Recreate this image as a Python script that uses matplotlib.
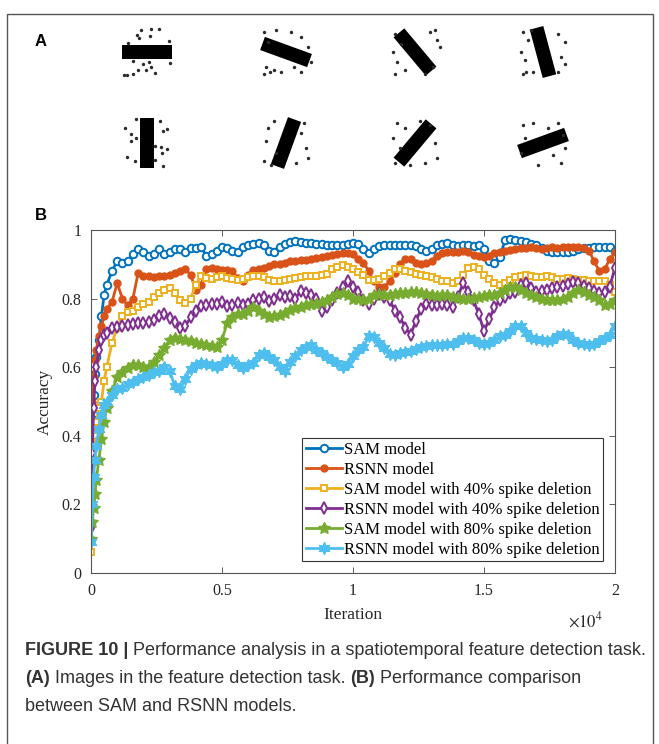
import numpy as np
import matplotlib
matplotlib.use("Agg")
import matplotlib.pyplot as plt
from matplotlib.patches import Rectangle

plt.rcParams["mathtext.fontset"] = "stix"

# ---- panel A: oriented bars with background noise ----
bar_angles = [0, -20, -50, -75, 90, 70, 50, 20]
bar_noise = [
    [(-6, -22), (4, -23), (12, -23), (-10, -17), (3, -16), (-8, -14), (22, -11), (-19, -9),
     (-14, 9), (-4, 12), (2, 10), (23, 11), (-9, 18), (-1, 18), (8, 21), (-14, 22), (-23, 23), (-20, 23), (4, 15)],
    [(-22, -20), (-10, -22), (5, -20), (15, -15), (-18, -10), (22, -5), (-20, 15), (-12, 18),
     (-5, 20), (8, 15), (15, 20), (-22, 22), (25, 10), (-16, 20)],
    [(-20, -18), (15, -20), (22, -12), (-22, 0), (-18, 10), (-10, 18), (-20, 22), (18, 15),
     (25, -5), (10, 22), (-14, -8), (20, -22)],
    [(-20, -20), (-15, -12), (15, -18), (22, -10), (-22, 0), (-18, 8), (18, 5), (-10, 20),
     (-20, 22), (15, 20), (22, 12), (-12, -22), (-17, 20)],
    [(-11, -24), (13, -22), (-22, -15), (-16, -9), (-11, -5), (16, -12), (20, -14), (-16, -2),
     (8, 3), (14, 4), (20, 6), (-20, 14), (-12, 18), (8, 17), (16, 23), (15, 10)],
    [(-18, -15), (-20, -2), (-10, 10), (15, -10), (20, 5), (22, 15), (-22, 18), (-15, 22),
     (10, 20), (18, -20), (-12, -22)],
    [(-18, -20), (-10, -15), (5, -22), (15, -18), (-22, -5), (-15, 5), (20, 0), (22, 15),
     (-20, 20), (10, 20), (-5, 22)],
    [(-20, -18), (-10, -20), (5, -15), (15, -20), (-18, -5), (20, -8), (-22, 10), (10, 12),
     (18, 20), (-5, 22), (22, 5)],
]

# ---- panel B: accuracy curves ----
iterations = np.concatenate([[0, 50, 100, 150, 200, 300, 400, 500, 600, 800],
                             np.arange(1000, 20001, 200)])

sam = [0.37, 0.45, 0.52, 0.58, 0.63, 0.68, 0.75, 0.81, 0.84, 0.88,
       0.91, 0.905, 0.91, 0.93, 0.945, 0.935, 0.925, 0.93, 0.945, 0.93,
       0.935, 0.945, 0.945, 0.935, 0.947, 0.947, 0.95, 0.925, 0.93, 0.94,
       0.95, 0.947, 0.94, 0.935, 0.95, 0.955, 0.96, 0.962, 0.955, 0.94,
       0.935, 0.95, 0.96, 0.965, 0.967, 0.965, 0.962, 0.962, 0.96, 0.958,
       0.955, 0.955, 0.957, 0.955, 0.958, 0.962, 0.96, 0.945, 0.933, 0.945,
       0.953, 0.955, 0.957, 0.957, 0.955, 0.955, 0.957, 0.952, 0.945, 0.94,
       0.945, 0.955, 0.96, 0.962, 0.957, 0.952, 0.955, 0.955, 0.952, 0.955,
       0.945, 0.91, 0.905, 0.92, 0.97, 0.975, 0.97, 0.968, 0.965, 0.96,
       0.955, 0.948, 0.94, 0.935, 0.935, 0.935, 0.937, 0.94, 0.945, 0.947,
       0.948, 0.95, 0.95, 0.95, 0.95, 0.94]

rsnn = [0.41, 0.5, 0.57, 0.62, 0.65, 0.69, 0.72, 0.75, 0.77, 0.79,
        0.845, 0.8, 0.78, 0.8, 0.875, 0.866, 0.866, 0.863, 0.866, 0.866,
        0.869, 0.875, 0.88, 0.885, 0.87, 0.825, 0.84, 0.885, 0.889, 0.885,
        0.883, 0.883, 0.88, 0.86, 0.85, 0.87, 0.883, 0.885, 0.89, 0.895,
        0.9, 0.9, 0.905, 0.91, 0.91, 0.913, 0.913, 0.915, 0.918, 0.92,
        0.925, 0.928, 0.93, 0.932, 0.933, 0.93, 0.915, 0.905, 0.88, 0.85,
        0.835, 0.835, 0.85, 0.875, 0.9, 0.915, 0.915, 0.905, 0.9, 0.905,
        0.91, 0.925, 0.933, 0.935, 0.935, 0.935, 0.938, 0.935, 0.928, 0.925,
        0.92, 0.925, 0.933, 0.935, 0.94, 0.943, 0.945, 0.947, 0.948, 0.95,
        0.948, 0.945, 0.947, 0.95, 0.948, 0.95, 0.95, 0.95, 0.95, 0.948,
        0.94, 0.91, 0.88, 0.885, 0.915, 0.935]

sam40 = [0.06, 0.22, 0.33, 0.4, 0.44, 0.48, 0.5, 0.56, 0.6, 0.67,
         0.715, 0.75, 0.76, 0.765, 0.775, 0.785, 0.79, 0.805, 0.815, 0.825,
         0.83, 0.815, 0.795, 0.787, 0.8, 0.84, 0.866, 0.86, 0.858, 0.862,
         0.865, 0.86, 0.857, 0.853, 0.857, 0.862, 0.866, 0.866, 0.862, 0.855,
         0.85, 0.852, 0.855, 0.858, 0.86, 0.862, 0.865, 0.866, 0.866, 0.868,
         0.872, 0.885, 0.893, 0.897, 0.893, 0.885, 0.878, 0.868, 0.855, 0.855,
         0.857, 0.865, 0.875, 0.885, 0.885, 0.88, 0.878, 0.872, 0.868, 0.865,
         0.862, 0.857, 0.852, 0.85, 0.845, 0.85, 0.87, 0.888, 0.893, 0.885,
         0.87, 0.858, 0.845, 0.84, 0.845, 0.855, 0.862, 0.867, 0.869, 0.866,
         0.862, 0.862, 0.865, 0.862, 0.858, 0.858, 0.86, 0.857, 0.855, 0.853,
         0.852, 0.85, 0.85, 0.85, 0.84, 0.82]

rsnn40 = [0.13, 0.35, 0.48, 0.56, 0.6, 0.65, 0.68, 0.695, 0.7, 0.713,
          0.718, 0.72, 0.722, 0.725, 0.728, 0.73, 0.733, 0.738, 0.75, 0.755,
          0.743, 0.733, 0.715, 0.72, 0.745, 0.765, 0.778, 0.782, 0.785, 0.785,
          0.79, 0.778, 0.78, 0.787, 0.78, 0.785, 0.795, 0.8, 0.805, 0.792,
          0.8, 0.81, 0.805, 0.808, 0.8, 0.822, 0.815, 0.81, 0.8, 0.765,
          0.775, 0.795, 0.815, 0.835, 0.852, 0.835, 0.82, 0.795, 0.785, 0.8,
          0.812, 0.805, 0.795, 0.765, 0.745, 0.715, 0.695, 0.735, 0.77, 0.785,
          0.78, 0.78, 0.785, 0.78, 0.775, 0.805, 0.845, 0.82, 0.795, 0.755,
          0.705, 0.74, 0.775, 0.795, 0.805, 0.815, 0.82, 0.84, 0.845, 0.83,
          0.82, 0.822, 0.825, 0.83, 0.835, 0.838, 0.842, 0.848, 0.845, 0.838,
          0.83, 0.822, 0.815, 0.82, 0.835, 0.89]

sam80 = [0.1, 0.15, 0.19, 0.23, 0.27, 0.33, 0.39, 0.44, 0.48, 0.53,
         0.57, 0.585, 0.597, 0.605, 0.605, 0.6, 0.6, 0.615, 0.635, 0.655,
         0.68, 0.685, 0.682, 0.68, 0.675, 0.67, 0.668, 0.665, 0.663, 0.66,
         0.68, 0.73, 0.745, 0.755, 0.755, 0.765, 0.775, 0.765, 0.755, 0.745,
         0.748, 0.752, 0.758, 0.768, 0.772, 0.775, 0.78, 0.783, 0.785, 0.79,
         0.795, 0.805, 0.812, 0.815, 0.81, 0.8, 0.798, 0.795, 0.8, 0.81,
         0.812, 0.81, 0.81, 0.812, 0.815, 0.815, 0.818, 0.82, 0.815, 0.812,
         0.81, 0.808, 0.81, 0.81, 0.805, 0.802, 0.8, 0.8, 0.803, 0.806,
         0.808, 0.81, 0.81, 0.815, 0.825, 0.835, 0.835, 0.825, 0.815, 0.81,
         0.805, 0.8, 0.797, 0.795, 0.797, 0.8, 0.805, 0.815, 0.825, 0.82,
         0.81, 0.805, 0.795, 0.78, 0.785, 0.795]

rsnn80 = [0.09, 0.2, 0.28, 0.33, 0.37, 0.42, 0.46, 0.49, 0.5, 0.52,
          0.535, 0.54, 0.55, 0.558, 0.565, 0.57, 0.578, 0.585, 0.59, 0.6,
          0.59, 0.545, 0.535, 0.565, 0.595, 0.605, 0.612, 0.61, 0.605, 0.6,
          0.61, 0.62, 0.62, 0.605, 0.597, 0.605, 0.612, 0.635, 0.642, 0.63,
          0.622, 0.6, 0.59, 0.615, 0.632, 0.65, 0.66, 0.665, 0.65, 0.64,
          0.63, 0.62, 0.612, 0.6, 0.61, 0.632, 0.65, 0.66, 0.69, 0.688,
          0.67, 0.655, 0.638, 0.635, 0.64, 0.645, 0.648, 0.652, 0.658, 0.662,
          0.665, 0.665, 0.665, 0.667, 0.668, 0.675, 0.685, 0.685, 0.68, 0.672,
          0.668, 0.67, 0.68, 0.69, 0.695, 0.705, 0.72, 0.72, 0.7, 0.685,
          0.683, 0.68, 0.677, 0.68, 0.69, 0.698, 0.695, 0.68, 0.67, 0.668,
          0.665, 0.668, 0.675, 0.685, 0.695, 0.72]

labels = ["SAM model", "RSNN model", "SAM model with 40% spike deletion",
          "RSNN model with 40% spike deletion", "SAM model with 80% spike deletion",
          "RSNN model with 80% spike deletion"]

x_ticks = [0, 5000, 10000, 15000, 20000]
x_tick_labels = ["0", "0.5", "1", "1.5", "2"]
y_ticks = [0, 0.2, 0.4, 0.6, 0.8, 1.0]
y_tick_labels = ["0", "0.2", "0.4", "0.6", "0.8", "1"]

# MATLAB default line colours
styles = [
    dict(color="#0072BD", marker="o", ms=5.4, mfc="white", mew=1.4),
    dict(color="#D95319", marker="o", ms=5.0, mfc="#D95319", mew=1.0),
    dict(color="#EDB120", marker="s", ms=5.0, mfc="white", mew=1.4),
    dict(color="#7E2F8E", marker="d", ms=5.8, mfc="white", mew=1.4),
    dict(color="#77AC30", marker=(5, 1, 0), ms=9, mfc="#77AC30", mew=0.8),
    dict(color="#4DBEEE", marker=(6, 1, 0), ms=9, mfc="#4DBEEE", mew=0.8),
]

SERIF = "Liberation Serif"
SANS = "Liberation Sans"

fig = plt.figure(figsize=(6.59, 7.44), dpi=100)

# overlay in pixel units for the frame, panel A and the caption
canvas = fig.add_axes([0, 0, 1, 1])
canvas.set_xlim(0, 659)
canvas.set_ylim(744, 0)
canvas.axis("off")

canvas.add_patch(Rectangle((7, 14), 646, 760, fill=False, ec="#555555", lw=1.0))
canvas.text(35, 41, "A", family=SANS, weight="bold", fontsize=12, va="center", ha="left")
canvas.text(35, 216, "B", family=SANS, weight="bold", fontsize=12, va="center", ha="left")

cell_x = [147, 286, 415, 543]
row_y = [52, 143]
bar_len, bar_wid = 50, 14
for i, (ang, noise) in enumerate(zip(bar_angles, bar_noise)):
    cx, cy = cell_x[i % 4], row_y[i // 4]
    canvas.add_patch(Rectangle((cx - bar_len / 2, cy - bar_wid / 2), bar_len, bar_wid,
                               angle=-ang, rotation_point="center", fc="black", ec="none"))
    nx = [cx + d[0] for d in noise]
    ny = [cy + d[1] for d in noise]
    canvas.scatter(nx, ny, s=6, c="#2a2a2a", linewidths=0)

# accuracy chart
ax = fig.add_axes([91 / 659, 1 - 573 / 744, 524 / 659, 343 / 744])
series = [sam, rsnn, sam40, rsnn40, sam80, rsnn80]
for vals, lab, st in zip(series, labels, styles):
    ax.plot(iterations, vals, lw=2.0, label=lab, **st)

ax.set_xlim(0, 20000)
ax.set_ylim(0, 1)
ax.set_xticks(x_ticks)
ax.set_xticklabels(x_tick_labels)
ax.set_yticks(y_ticks)
ax.set_yticklabels(y_tick_labels)
ax.tick_params(direction="in", top=True, right=True, length=4, width=0.6,
               labelsize=11.5, pad=7, color="#444444", labelcolor="#262626")
for lbl in ax.get_xticklabels() + ax.get_yticklabels():
    lbl.set_family(SERIF)
for sp in ax.spines.values():
    sp.set_color("#555555")
    sp.set_linewidth(0.8)

leg = ax.legend(loc="lower right", bbox_to_anchor=(0.977, 0.035), borderaxespad=0,
                prop={"family": SERIF, "size": 12}, frameon=True, fancybox=False,
                framealpha=1, edgecolor="#333333", handlelength=2.2, handletextpad=0.1,
                labelspacing=0.24, borderpad=0.2, numpoints=1, handleheight=0.6)
leg.get_frame().set_linewidth(0.8)

canvas.text(45, 402, "Accuracy", family=SERIF, fontsize=12.5, rotation=90,
            ha="center", va="center", color="#262626")
canvas.text(353, 615, "Iteration", family=SERIF, fontsize=12.5,
            ha="center", va="center", color="#262626")
canvas.text(585, 621, r"$\times10^{4}$", fontsize=12, ha="center", va="center", color="#262626")

# caption, drawn run by run so bold and regular pieces sit side by side
caption = [
    [("FIGURE 10 | ", "bold"), ("Performance analysis in a spatiotemporal feature detection task.", "normal")],
    [("(A)", "bold"), (" Images in the feature detection task. ", "normal"), ("(B)", "bold"),
     (" Performance comparison", "normal")],
    [("between SAM and RSNN models.", "normal")],
]
fig.canvas.draw()
renderer = fig.canvas.get_renderer()
for k, line in enumerate(caption):
    x = 25
    y = 655 + 28 * k
    for txt, wt in line:
        t = canvas.text(x, y, txt, family=SANS, weight=wt, fontsize=13.0,
                        ha="left", va="baseline", color="#333333")
        x += t.get_window_extent(renderer).width

fig.savefig("out.png", dpi=100)
